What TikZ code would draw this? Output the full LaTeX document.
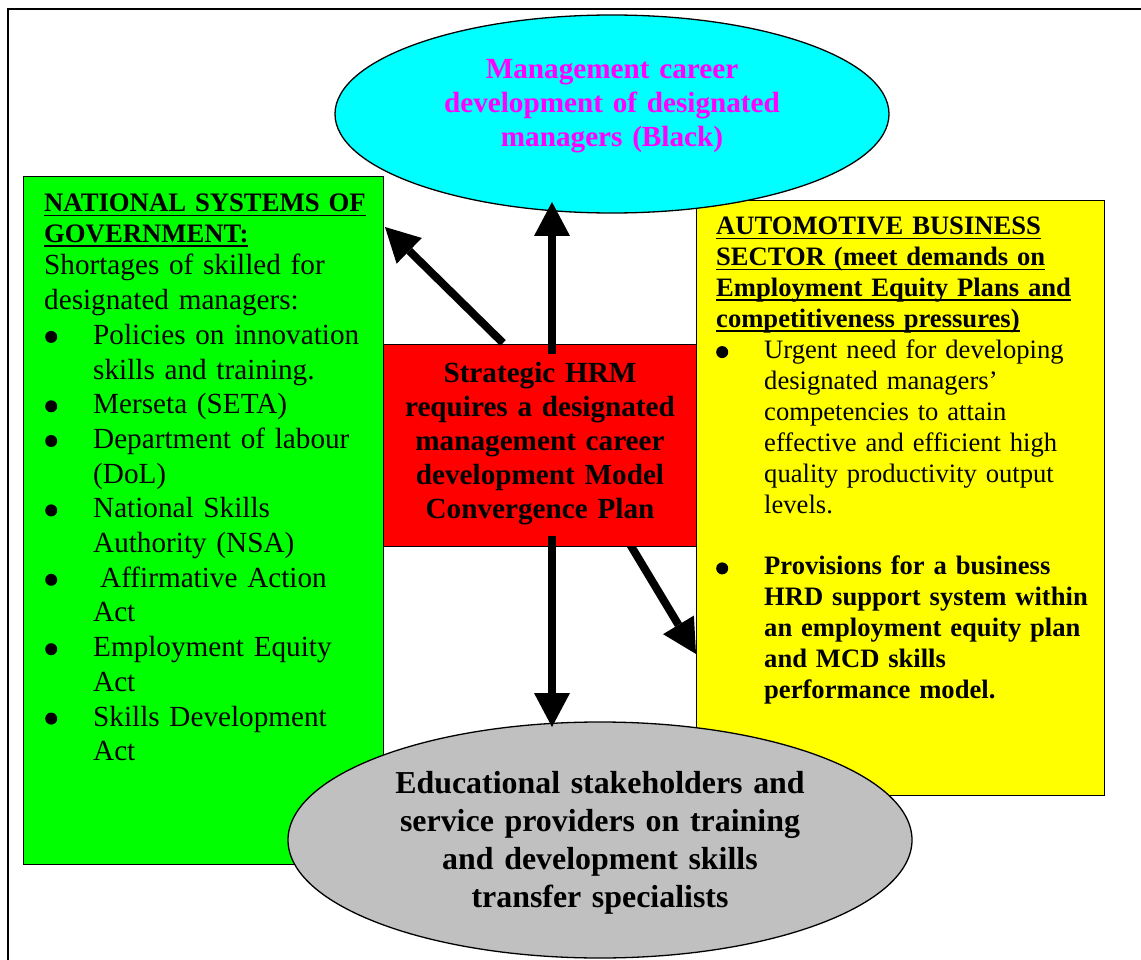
\documentclass[tikz,border=0pt]{standalone}
\usepackage{fontspec}
\setmainfont{Liberation Serif}
\usetikzlibrary{arrows.meta,shapes.geometric}

\definecolor{govgreen}{RGB}{0,255,0}
\definecolor{autoyellow}{RGB}{255,255,0}
\definecolor{hrmred}{RGB}{255,0,0}
\definecolor{mcdcyan}{RGB}{0,255,255}
\definecolor{edugrey}{RGB}{192,192,192}
\definecolor{mcdmagenta}{RGB}{255,0,255}

% heading underline drawn as a solid bar under the whole line
\newcommand{\ulbar}[1]{\leavevmode\setbox0\hbox{#1}\rlap{\rule[-4.5pt]{\wd0}{1.8pt}}\box0}
% round list bullet, centre raised #1 above the baseline
\newcommand{\dotmark}[1]{\tikz[baseline=0pt]\fill (6pt,#1) circle[radius=6pt];}
% bullet items: bullet then hanging indent
\newcommand{\gbul}{\leavevmode\makebox[49pt][l]{\hspace*{1pt}\dotmark{7.5pt}}}
\newcommand{\gind}{\leavevmode\hspace*{49pt}}
\newcommand{\ybul}{\leavevmode\makebox[48pt][l]{\dotmark{6.5pt}}}
\newcommand{\yind}{\leavevmode\hspace*{48pt}}

\begin{document}
\begin{tikzpicture}[x=1pt,y=-1pt,
  panel/.style={draw=black, line width=1.3pt, inner sep=0pt, anchor=north west},
  oval/.style={draw=black, line width=1.3pt, ellipse, inner sep=0pt},
  label/.style={inner sep=0pt, text width=420pt},
  bigarrow/.style={line width=8pt, line cap=butt,
    -{Triangle[width=36pt,length=34pt,line width=0pt]}}
]
\useasboundingbox (0,0) rectangle (1141,960);

% page frame (left and top rules)
\draw[line width=2pt] (8,960) -- (8,9) -- (1141,9);

% arrow into the automotive sector box sits under it
\coordinate (drS) at (625,536);
\coordinate (drE) at (696,654);
\draw[bigarrow] (drS) -- (drE);

% panels
\node[panel, fill=autoyellow, minimum width=408pt, minimum height=595pt] (ybox) at (696,200) {};
\node[panel, fill=govgreen, minimum width=360pt, minimum height=688pt] (gbox) at (23,176) {};
\node[panel, fill=hrmred, minimum width=313pt, minimum height=202pt] (rbox) at (383,344) {};
\node[oval, fill=mcdcyan, minimum width=554pt, minimum height=198pt] (topoval) at (612,114) {};

% government panel text
\node[label, anchor=base west, align=left,
  font=\bfseries\fontsize{26.7}{30.5}\selectfont] (ghead) at (44,212)
  {\ulbar{NATIONAL SYSTEMS OF}\\\ulbar{GOVERNMENT:}};
\node[label, anchor=base west, align=left,
  font=\fontsize{29.2}{34.7}\selectfont] (gtext) at (44,275)
  {Shortages of skilled for\\
   designated managers:\\
   \gbul Policies on innovation\\
   \gind skills and training.\\
   \gbul Merseta (SETA)\\
   \gbul Department of labour\\
   \gind (DoL)\\
   \gbul National Skills\\
   \gind Authority (NSA)\\
   \gbul\hspace*{7pt}Affirmative Action\\
   \gind Act\\
   \gbul Employment Equity\\
   \gind Act\\
   \gbul Skills Development\\
   \gind Act};

% automotive sector panel text
\node[label, anchor=base west, align=left,
  font=\fontsize{26.6}{30.9}\selectfont] (ytext) at (716,235)
  {\ulbar{\textbf{AUTOMOTIVE BUSINESS}}\\
   \ulbar{\textbf{SECTOR (meet demands on}}\\
   \ulbar{\textbf{Employment Equity Plans and}}\\
   \ulbar{\textbf{competitiveness pressures)}}\\
   \ybul Urgent need for developing\\
   \yind designated managers’\\
   \yind competencies to attain\\
   \yind effective and efficient high\\
   \yind quality productivity output\\
   \yind levels.\\[30.9pt]
   \ybul\textbf{Provisions for a business}\\
   \yind\textbf{HRD support system within}\\
   \yind\textbf{an employment equity plan}\\
   \yind\textbf{and MCD skills}\\
   \yind\textbf{performance model.}};

% central HRM box text
\node[label, anchor=base, align=center, text width=320pt,
  font=\bfseries\fontsize{29.2}{34}\selectfont] (rtext) at (540,382)
  {Strategic HRM\\requires a designated\\management career\\development Model\\Convergence Plan};

% top oval text
\node[label, anchor=base, align=center, text width=420pt, text=mcdmagenta,
  font=\bfseries\fontsize{29.2}{34}\selectfont] (toptext) at (612,79)
  {Management career\\development of designated\\managers (Black)};

% bottom oval
\node[oval, fill=edugrey, minimum width=624pt, minimum height=236pt] (botoval) at (600,840) {};
\node[label, anchor=base, align=center, text width=500pt,
  font=\bfseries\fontsize{31.9}{38}\selectfont] (bottext) at (600,793)
  {Educational stakeholders and\\service providers on training\\and development skills\\transfer specialists};

% arrows out of the central box
\coordinate (upS) at (552,354);
\coordinate (upE) at (552,202);
\coordinate (ulS) at (503,343);
\coordinate (ulE) at (385,227);
\coordinate (dnS) at (552,536);
\coordinate (dnE) at (552,727);
\draw[bigarrow] (upS) -- (upE);
\draw[bigarrow] (ulS) -- (ulE);
\draw[bigarrow] (dnS) -- (dnE);
\end{tikzpicture}
\end{document}
